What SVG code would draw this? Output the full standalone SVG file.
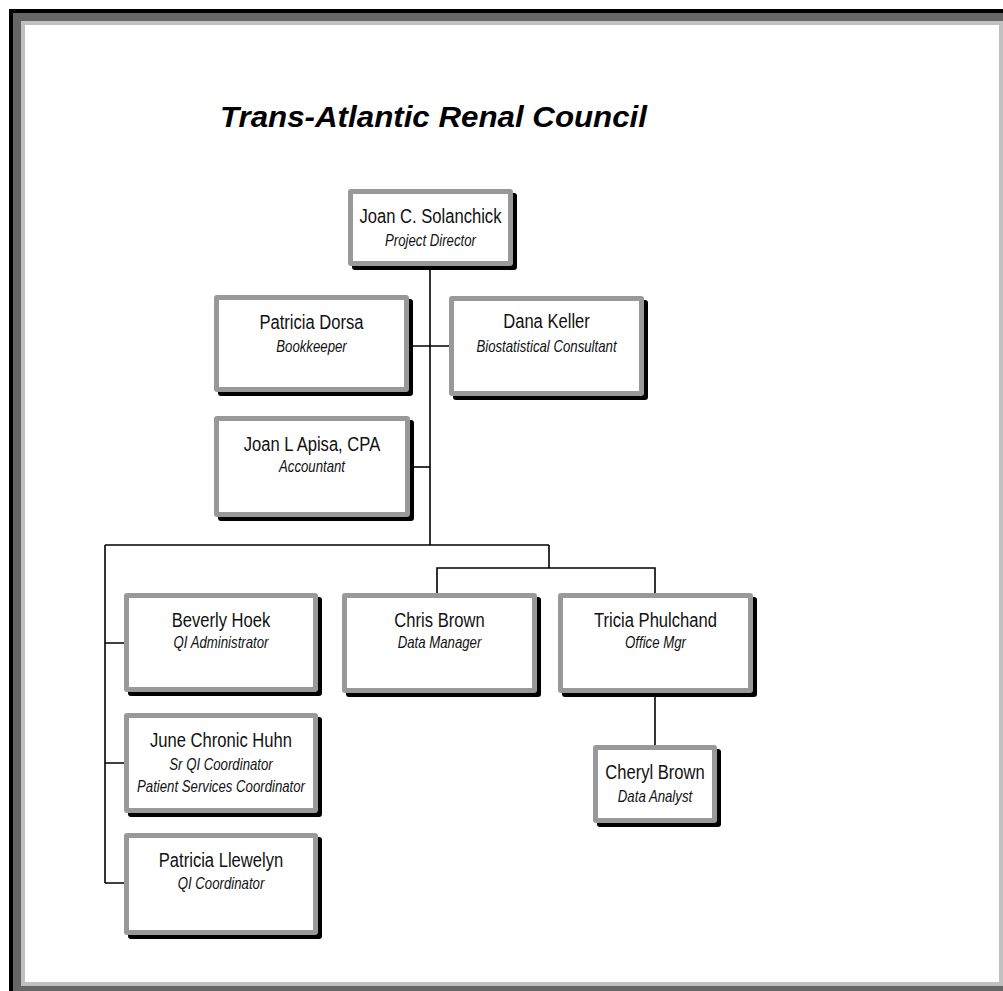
<svg xmlns="http://www.w3.org/2000/svg" width="1003" height="991" viewBox="0 0 1003 991">
<style>
.sh{fill:#000}
.bd{fill:#999999}
.in{fill:#ffffff}
.nm{font-family:"Liberation Sans",Arial,sans-serif;font-size:21px;fill:#111;text-anchor:middle}
.tt{font-family:"Liberation Sans",Arial,sans-serif;font-size:16.5px;font-style:italic;fill:#111;text-anchor:middle}
.ln{stroke:#000;stroke-width:1.6;fill:none}
.title{font-family:"Liberation Sans",Arial,sans-serif;font-size:30px;font-weight:bold;font-style:italic;fill:#000}
</style>
<rect x="0" y="0" width="1003" height="991" fill="#fff"/>
<g id="frame">
<rect x="9" y="9" width="1010" height="995" fill="#000"/>
<rect x="13" y="13" width="1000" height="985" fill="#666666"/>
<rect x="21" y="21" width="982" height="965" fill="#c0c0c0"/>
<rect x="25" y="25" width="974" height="957" fill="#fff"/>
</g>
<text class="title" x="220" y="127" textLength="427" lengthAdjust="spacingAndGlyphs">Trans-Atlantic Renal Council</text>
<g id="connectors">
<path class="ln" d="M430 266V545"/>
<path class="ln" d="M409 346H449"/>
<path class="ln" d="M410 467H430"/>
<path class="ln" d="M105 545H549"/>
<path class="ln" d="M105 545V883"/>
<path class="ln" d="M105 643H124M105 763H124M105 883H124"/>
<path class="ln" d="M549 545V568"/>
<path class="ln" d="M437 593V568H655V593"/>
<path class="ln" d="M655 693V745"/>
</g>
<g id="solanchick">
<rect class="sh" x="352" y="193" width="165" height="77" rx="3"/>
<rect class="bd" x="348" y="189" width="165" height="77" rx="3"/>
<rect class="in" x="353" y="194" width="155" height="67"/>
<text class="nm" transform="translate(430.5 223) scale(0.79 1)">Joan C. Solanchick</text>
<text class="tt" transform="translate(430.5 246) scale(0.8 1)">Project Director</text>
</g>
<g id="dorsa">
<rect class="sh" x="218" y="299" width="195" height="97" rx="3"/>
<rect class="bd" x="214" y="295" width="195" height="97" rx="3"/>
<rect class="in" x="219" y="300" width="185" height="87"/>
<text class="nm" transform="translate(311.5 329) scale(0.79 1)">Patricia Dorsa</text>
<text class="tt" transform="translate(311.5 352) scale(0.8 1)">Bookkeeper</text>
</g>
<g id="keller">
<rect class="sh" x="453" y="300" width="195" height="100" rx="3"/>
<rect class="bd" x="449" y="296" width="195" height="100" rx="3"/>
<rect class="in" x="454" y="301" width="185" height="90"/>
<text class="nm" transform="translate(546.5 328) scale(0.79 1)">Dana Keller</text>
<text class="tt" transform="translate(546.5 352) scale(0.8 1)">Biostatistical Consultant</text>
</g>
<g id="apisa">
<rect class="sh" x="218" y="420" width="196" height="101" rx="3"/>
<rect class="bd" x="214" y="416" width="196" height="101" rx="3"/>
<rect class="in" x="219" y="421" width="186" height="91"/>
<text class="nm" transform="translate(312 451) scale(0.79 1)">Joan L Apisa, CPA</text>
<text class="tt" transform="translate(312 472) scale(0.8 1)">Accountant</text>
</g>
<g id="hoek">
<rect class="sh" x="128" y="597" width="194" height="99" rx="3"/>
<rect class="bd" x="124" y="593" width="194" height="99" rx="3"/>
<rect class="in" x="129" y="598" width="184" height="89"/>
<text class="nm" transform="translate(221 627) scale(0.79 1)">Beverly Hoek</text>
<text class="tt" transform="translate(221 648) scale(0.8 1)">QI Administrator</text>
</g>
<g id="huhn">
<rect class="sh" x="128" y="717" width="194" height="100" rx="3"/>
<rect class="bd" x="124" y="713" width="194" height="100" rx="3"/>
<rect class="in" x="129" y="718" width="184" height="90"/>
<text class="nm" transform="translate(221 747) scale(0.79 1)">June Chronic Huhn</text>
<text class="tt" transform="translate(221 770) scale(0.8 1)">Sr QI Coordinator</text>
<text class="tt" transform="translate(221 792) scale(0.8 1)">Patient Services Coordinator</text>
</g>
<g id="llewelyn">
<rect class="sh" x="128" y="837" width="194" height="102" rx="3"/>
<rect class="bd" x="124" y="833" width="194" height="102" rx="3"/>
<rect class="in" x="129" y="838" width="184" height="92"/>
<text class="nm" transform="translate(221 867) scale(0.79 1)">Patricia Llewelyn</text>
<text class="tt" transform="translate(221 889) scale(0.8 1)">QI Coordinator</text>
</g>
<g id="chris">
<rect class="sh" x="346" y="597" width="195" height="100" rx="3"/>
<rect class="bd" x="342" y="593" width="195" height="100" rx="3"/>
<rect class="in" x="347" y="598" width="185" height="90"/>
<text class="nm" transform="translate(439.5 627) scale(0.79 1)">Chris Brown</text>
<text class="tt" transform="translate(439.5 648) scale(0.8 1)">Data Manager</text>
</g>
<g id="tricia">
<rect class="sh" x="562" y="597" width="195" height="100" rx="3"/>
<rect class="bd" x="558" y="593" width="195" height="100" rx="3"/>
<rect class="in" x="563" y="598" width="185" height="90"/>
<text class="nm" transform="translate(655.5 627) scale(0.79 1)">Tricia Phulchand</text>
<text class="tt" transform="translate(655.5 648) scale(0.8 1)">Office Mgr</text>
</g>
<g id="cheryl">
<rect class="sh" x="597" y="749" width="124" height="78" rx="3"/>
<rect class="bd" x="593" y="745" width="124" height="78" rx="3"/>
<rect class="in" x="598" y="750" width="114" height="68"/>
<text class="nm" transform="translate(655 779) scale(0.79 1)">Cheryl Brown</text>
<text class="tt" transform="translate(655 802) scale(0.8 1)">Data Analyst</text>
</g>
</svg>
